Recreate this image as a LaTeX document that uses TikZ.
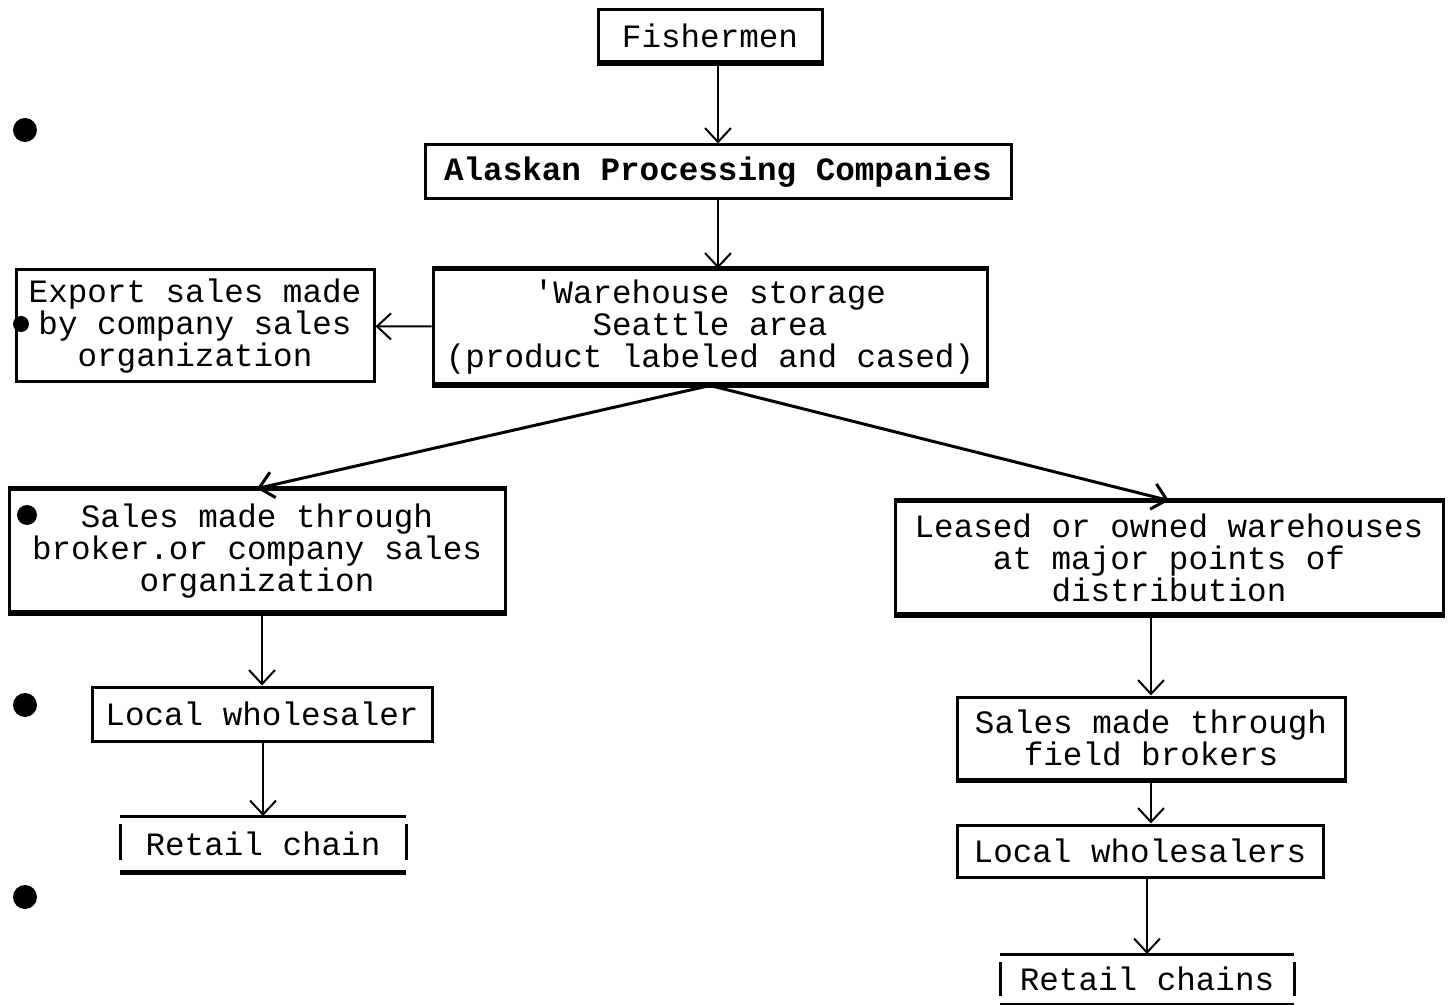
\documentclass[tikz,border=0pt]{standalone}
\usepackage{fontspec}
\setmonofont{Liberation Mono}
\usetikzlibrary{arrows.meta}
\tikzset{
	box/.style={draw,line width=1.5pt,inner sep=2pt,align=center,font=\ttfamily\fontsize{16.3}{16}\selectfont},
	openbox/.style={inner sep=2pt,align=center,font=\ttfamily\fontsize{16.3}{16}\selectfont},
	heavy/.style={line width=2.5pt}
}
\begin{document}
\begin{tikzpicture}[x=0.5pt,y=-0.5pt,>={Straight Barb[length=7pt,width=13pt]},line width=1pt]
		\useasboundingbox (0,0) rectangle (1452,1005);
		\node[box,minimum width=112pt,minimum height=26pt] at (710,36) (fish){Fishermen};
		\node[box,minimum width=293pt,minimum height=27pt] at (718,172) (apc){\bfseries Alaskan Processing Companies};
		\node[box,minimum width=277pt,minimum height=57pt] at (710,327) (ware){'Warehouse storage\\Seattle area\\(product labeled and cased)};
		\node[box,minimum width=179pt,minimum height=56pt] at (195,326) (export){Export sales made\\by company sales\\organization};
		\node[box,minimum width=248pt,minimum height=61pt] at (257,551) (broker){Sales made through\\broker.or company sales\\organization};
		\node[box,minimum width=274pt,minimum height=56pt] at (1169,558) (leased){Leased or owned warehouses\\at major points of\\distribution};
		\node[box,minimum width=170pt,minimum height=27pt] at (262,714) (local){Local wholesaler};
		\node[openbox,minimum width=142pt,minimum height=27pt] at (263,844) (retail){Retail chain};
		\node[box,minimum width=194pt,minimum height=41pt] at (1151,738) (field){Sales made through\\field brokers};
		\node[box,minimum width=183pt,minimum height=26pt] at (1140,851) (locals){Local wholesalers};
		\node[openbox,minimum width=146pt,minimum height=24pt] at (1147,979) (retails){Retail chains};
		% open boxes of the retail chains
		\draw[line width=1.5pt] (retail.north west) -- (retail.north east) (retail.south west) -- (retail.south east)
		([yshift=-4pt]retail.north west) -- ([yshift=6pt]retail.south west)
		([yshift=-4pt]retail.north east) -- ([yshift=6pt]retail.south east);
		\draw[line width=1.5pt] (retails.north west) -- (retails.north east) (retails.south west) -- (retails.south east)
		([yshift=-4pt]retails.north west) -- ([yshift=4pt]retails.south west)
		([yshift=-4pt]retails.north east) -- ([yshift=4pt]retails.south east);
		% heavier edges
		\draw[heavy] (fish.south west) -- (fish.south east);
		\draw[heavy] (ware.north west) -- (ware.north east) (ware.south west) -- (ware.south east);
		\draw[heavy] (broker.north west) -- (broker.north east) (broker.south west) -- (broker.south east);
		\draw[heavy] (leased.north west) -- (leased.north east) (leased.south west) -- (leased.south east);
		\draw[heavy] (field.south west) -- (field.south east);
		\draw[heavy] (retail.south west) -- (retail.south east);
		\path[->]
		(apc.north |- fish.south) edge (apc.north)
		(apc.south) edge (apc.south |- ware.north)
		(ware) edge (export)
		(ware.south) edge[line width=1.5pt] (broker.north)
		(ware.south) edge[line width=1.5pt] (leased.north)
		(local.north |- broker.south) edge (local.north)
		(retail.north |- local.south) edge (retail.north)
		(field.north |- leased.south) edge (field.north)
		(field.south) edge (field.south |- locals.north)
		(retails.north |- locals.south) edge (retails.north);
		% punch marks
		\fill (25,130) circle (12);
		\fill (21,324) circle (8);
		\fill (27,515) circle (10);
		\fill (25,705) circle (12);
		\fill (25,897) circle (12);
		\end{tikzpicture}
\end{document}
